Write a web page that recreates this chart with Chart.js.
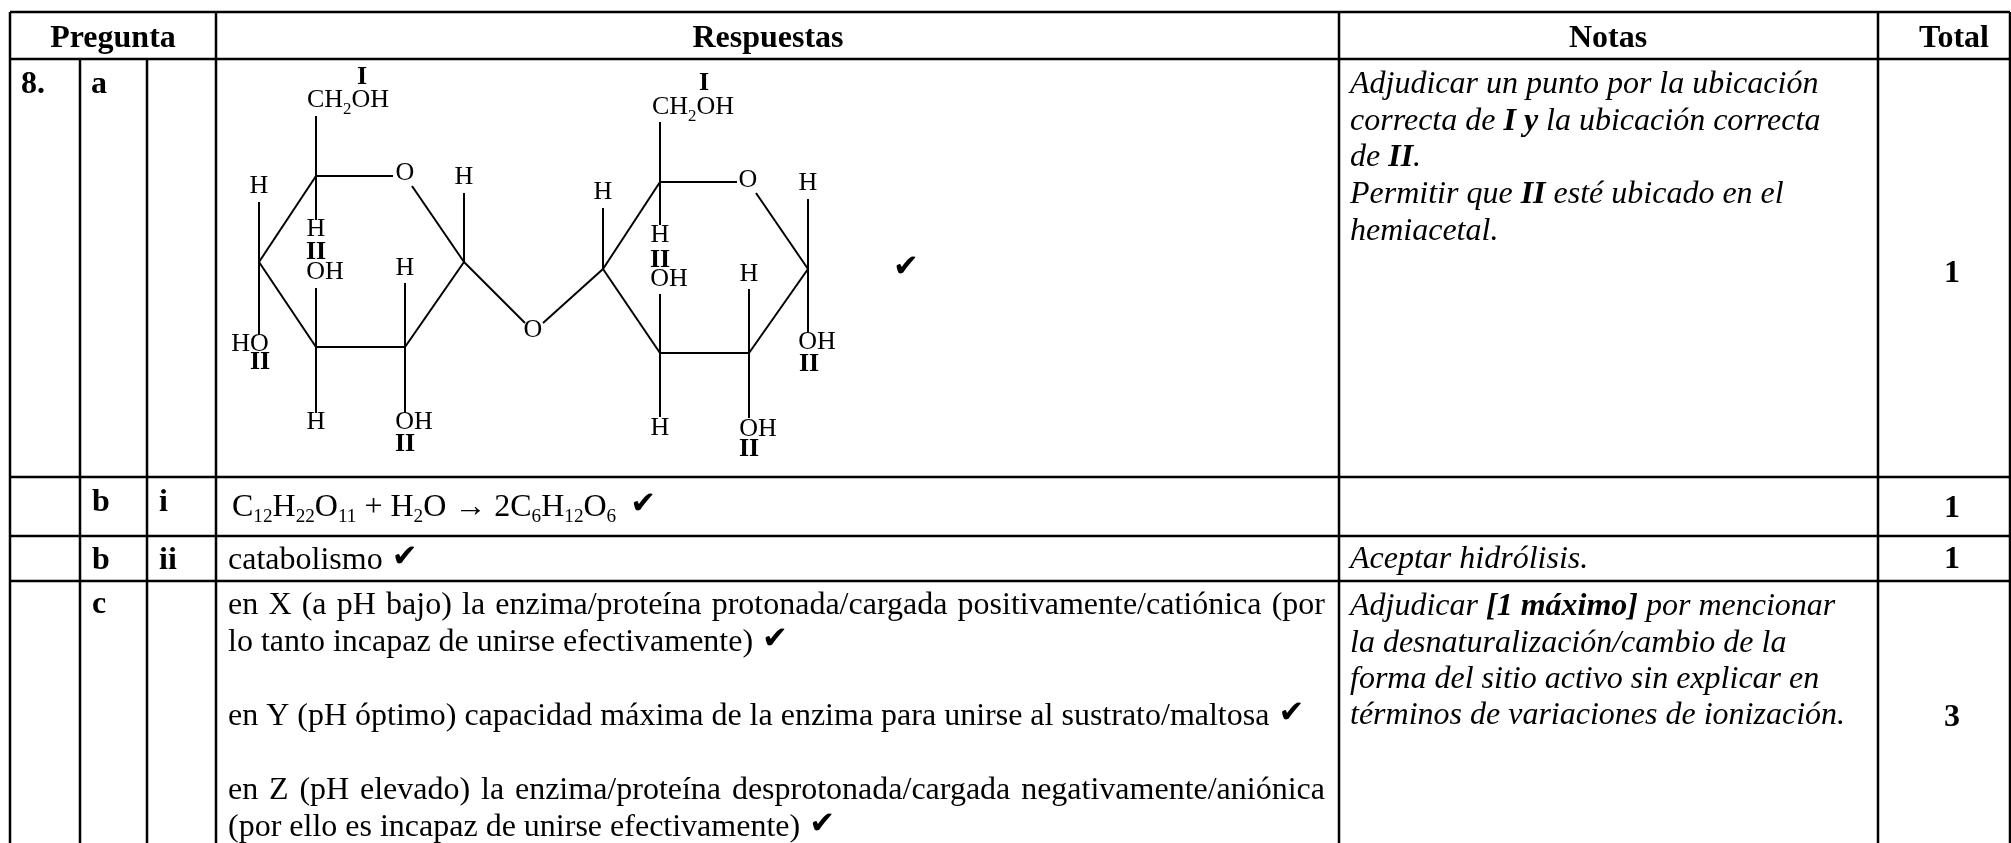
<!DOCTYPE html>
<html>
<head>
<meta charset="utf-8">
<script src="https://cdn.jsdelivr.net/npm/chart.js@4/dist/chart.umd.min.js"></script>
<style>
html, body { margin: 0; padding: 0; background: #fff; }
canvas { display: block; }
</style>
</head>
<body>
<canvas id="chart" width="2011" height="843"></canvas>
<script>
// table rules
const ruleRows = [[12, 10, 2010], [59, 10, 2010], [477, 10, 2010], [536, 10, 2010], [581, 10, 2010]];
const ruleCols = [[10, 12, 843], [80, 59, 843], [147, 59, 843], [216, 12, 843], [1339, 12, 843], [1878, 12, 843], [2010, 12, 843]];

// molecule bonds x1, y1, x2, y2
const leftRing = [
  [316, 116, 316, 220], [316, 176, 393, 176], [412, 186, 464, 262], [464, 193, 464, 262],
  [316, 176, 259, 262], [259, 202, 259, 335], [259, 262, 316, 347], [316, 347, 405, 347],
  [405, 347, 464, 262], [316, 288, 316, 413], [405, 283, 405, 413]
];
const rightRing = [
  [660, 122, 660, 225], [660, 182, 737, 182], [756, 193, 808, 269], [808, 199, 808, 332],
  [660, 182, 603, 269], [603, 208, 603, 269], [603, 269, 660, 353], [660, 353, 749, 353],
  [749, 353, 808, 269], [660, 294, 660, 417], [749, 289, 749, 418]
];
const bridge = [[464, 262, 525, 323], [543, 323, 603, 269]];

// atom labels: text, centre x, baseline y
const atomsPlain = [
  ['O', 405, 180], ['H', 464, 184], ['H', 259, 193], ['H', 316, 236], ['H', 405, 275], ['H', 316, 429],
  ['O', 533, 337], ['O', 748, 187], ['H', 808, 190], ['H', 603, 199], ['H', 660, 242], ['H', 749, 281], ['H', 660, 435],
  ['OH', 325, 279], ['OH', 669, 286], ['HO', 250, 351], ['OH', 414, 429], ['OH', 817, 349], ['OH', 758, 436]
];
const atomsBold = [
  ['I', 362, 84], ['I', 704, 90], ['II', 316, 259], ['II', 660, 267], ['II', 260, 369], ['II', 809, 371], ['II', 405, 451], ['II', 749, 456]
];

const headers = [['Pregunta', 113], ['Respuestas', 768], ['Notas', 1608], ['Total', 1954]];
const rowMarks = [['8.', 21, 93], ['a', 91, 93], ['b', 92, 511], ['i', 159, 511], ['b', 92, 569], ['ii', 159, 569], ['c', 92, 613]];
const totals = [['1', 1952, 282], ['1', 1952, 517], ['1', 1952, 568], ['3', 1952, 726]];

// answer text, baseline y, justified, ends in a check mark
const answerLines = [
  ['catabolismo', 569, false, true],
  ['en X (a pH bajo) la enzima/proteína protonada/cargada positivamente/catiónica (por', 614, true, false],
  ['lo tanto incapaz de unirse efectivamente)', 651, false, true],
  ['en Y (pH óptimo) capacidad máxima de la enzima para unirse al sustrato/maltosa', 725, false, true],
  ['en Z (pH elevado) la enzima/proteína desprotonada/cargada negativamente/aniónica', 799, true, false],
  ['(por ello es incapaz de unirse efectivamente)', 836, false, true]
];

// notes use | to toggle bold
const noteLines = [
  ['Adjudicar un punto por la ubicación', 93],
  ['correcta de |I y| la ubicación correcta', 130],
  ['de |II|.', 166],
  ['Permitir que |II| esté ubicado en el', 203],
  ['hemiacetal.', 240],
  ['Aceptar hidrólisis.', 568],
  ['Adjudicar |[1 máximo]| por mencionar', 615],
  ['la desnaturalización/cambio de la', 652],
  ['forma del sitio activo sin explicar en', 688],
  ['términos de variaciones de ionización.', 724]
];

// formula runs: text, is subscript
const formulaCH2OH = [['CH', 0], ['2', 1], ['OH', 0]];
const equation = [['C', 0], ['12', 1], ['H', 0], ['22', 1], ['O', 0], ['11', 1], [' + H', 0], ['2', 1], ['O → 2C', 0], ['6', 1], ['H', 0], ['12', 1], ['O', 0], ['6', 1]];

const SERIF = '"Liberation Serif", "Times New Roman", serif';
const BODY = 32;
const CHEM = 26;
const CHECK = 31;

function toSegments(list, width) {
  return list.map(([x1, y1, x2, y2]) => ({
    data: [{ x: x1, y: y1 }, { x: x2, y: y2 }],
    borderColor: '#000',
    borderWidth: width,
    pointRadius: 0,
    showLine: true,
    fill: false
  }));
}

const ruleSegments = ruleRows.map(([y, a, b]) => [a, y, b, y]).concat(ruleCols.map(([x, a, b]) => [x, a, x, b]));

function drawRuns(ctx, runs, x, y, size, subScale, subDrop) {
  runs.forEach(([txt, sub]) => {
    ctx.font = (sub ? size * subScale : size) + 'px ' + SERIF;
    ctx.fillText(txt, x, sub ? y + size * subDrop : y);
    x += ctx.measureText(txt).width;
  });
  return x;
}

function drawCheck(ctx, x, y) {
  ctx.font = CHECK + 'px "DejaVu Sans"';
  ctx.fillText('✔', x, y);
}

const textPlugin = {
  id: 'tableText',
  afterDatasetsDraw(chart) {
    const ctx = chart.ctx;
    const sx = (v) => chart.scales.x.getPixelForValue(v);
    const sy = (v) => chart.scales.y.getPixelForValue(v);
    ctx.save();
    ctx.fillStyle = '#000';
    ctx.textBaseline = 'alphabetic';

    // headers and row marks
    ctx.font = 'bold ' + BODY + 'px ' + SERIF;
    ctx.textAlign = 'center';
    headers.forEach(([t, x]) => ctx.fillText(t, sx(x), sy(47)));
    totals.forEach(([t, x, y]) => ctx.fillText(t, sx(x), sy(y)));
    ctx.textAlign = 'left';
    rowMarks.forEach(([t, x, y]) => ctx.fillText(t, sx(x), sy(y)));

    // molecule labels
    ctx.textAlign = 'center';
    ctx.font = CHEM + 'px ' + SERIF;
    atomsPlain.forEach(([t, x, y]) => ctx.fillText(t, sx(x), sy(y)));
    ctx.font = 'bold ' + CHEM + 'px ' + SERIF;
    atomsBold.forEach(([t, x, y]) => ctx.fillText(t, sx(x), sy(y)));
    ctx.textAlign = 'left';
    drawRuns(ctx, formulaCH2OH, sx(307), sy(107), CHEM, 0.65, 0.27);
    drawRuns(ctx, formulaCH2OH, sx(652), sy(114), CHEM, 0.65, 0.27);
    const eqEnd = drawRuns(ctx, equation, sx(232), sy(516), BODY, 0.6, 0.2);
    drawCheck(ctx, eqEnd + 14, sy(513));
    drawCheck(ctx, sx(893), sy(276));

    // answers, some lines justified to the cell width
    answerLines.forEach(([t, y, justify, check]) => {
      ctx.font = BODY + 'px ' + SERIF;
      ctx.wordSpacing = '0px';
      if (justify) {
        const gaps = t.split(' ').length - 1;
        ctx.wordSpacing = (1325 - 228 - ctx.measureText(t).width) / gaps + 'px';
      }
      ctx.fillText(t, sx(228), sy(y));
      const end = sx(228) + ctx.measureText(t).width;
      ctx.wordSpacing = '0px';
      if (check) drawCheck(ctx, end + 9, sy(y - 3));
    });

    // notes
    noteLines.forEach(([t, y]) => {
      let x = sx(1350);
      t.split('|').forEach((part, i) => {
        ctx.font = (i % 2 ? 'italic bold ' : 'italic ') + BODY + 'px ' + SERIF;
        ctx.fillText(part, x, sy(y));
        x += ctx.measureText(part).width;
      });
    });
    ctx.restore();
  }
};

new Chart(document.getElementById('chart'), {
  type: 'scatter',
  data: { datasets: toSegments(ruleSegments, 2.5).concat(toSegments(leftRing, 2), toSegments(rightRing, 2), toSegments(bridge, 2)) },
  options: {
    responsive: false,
    animation: false,
    layout: { padding: 0 },
    plugins: { legend: { display: false }, tooltip: { enabled: false } },
    scales: {
      x: { type: 'linear', min: 0, max: 2011, display: false },
      y: { type: 'linear', min: 0, max: 843, reverse: true, display: false }
    }
  },
  plugins: [textPlugin]
});
</script>
</body>
</html>
